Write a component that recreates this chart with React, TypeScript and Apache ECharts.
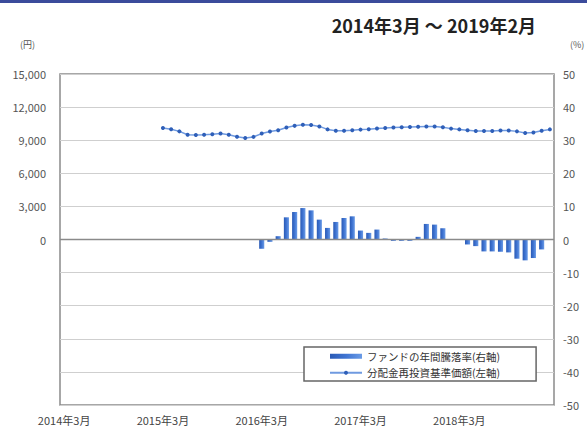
import React, { useEffect, useRef } from "react";
import * as echarts from "echarts";

const FONT = "'Noto Sans CJK JP', 'Noto Sans', sans-serif";

// 60 months: 2014年3月 ... 2019年2月
const months: string[] = [];
for (let k = 0; k < 60; k++) {
  const y = 2014 + Math.floor((2 + k) / 12);
  const m = ((2 + k) % 12) + 1;
  months.push(`${y}年${m}月`);
}

// 分配金再投資基準価額 (円), from 2015年3月 (index 12) to 2019年2月
const navValues: (number | null)[] = [
  null, null, null, null, null, null, null, null, null, null, null, null,
  10100, 10000, 9800, 9500, 9480, 9490, 9530, 9600, 9500, 9320, 9200, 9300,
  9600, 9780, 9900, 10150, 10300, 10400, 10380, 10250, 9980, 9850, 9850, 9900,
  9960, 10000, 10060, 10100, 10150, 10180, 10200, 10220, 10240, 10250, 10180, 10050,
  9980, 9900, 9840, 9830, 9840, 9880, 9880, 9800, 9650, 9700, 9850, 9980,
];

// ファンドの年間騰落率 (%), from 2016年3月 (index 24)
const returnValues: (number | null)[] = [
  null, null, null, null, null, null, null, null, null, null, null, null,
  null, null, null, null, null, null, null, null, null, null, null, null,
  -2.8, -0.7, 1.0, 6.7, 8.3, 9.5, 8.8, 6.0, 3.5, 5.3, 6.5, 7.0,
  2.7, 2.0, 3.0, 0.3, -0.4, -0.4, -0.4, 0.8, 4.7, 4.5, 3.4, 0.1,
  0.1, -1.5, -2.0, -3.6, -3.6, -3.7, -3.9, -5.8, -6.3, -5.6, -3.0, null,
];

const leftTicks = { min: -15000, max: 15000, interval: 3000 };
const rightTicks = { min: -50, max: 50, interval: 10 };

const titleText = "2014年3月 ～ 2019年2月";
const barName = "ファンドの年間騰落率(右軸)";
const lineName = "分配金再投資基準価額(左軸)";

export default function App() {
  const ref = useRef<HTMLDivElement>(null);
  useEffect(() => {
    if (!ref.current) return;
    const chart = echarts.init(ref.current, undefined, { renderer: "svg" });
    chart.setOption({
      animation: false,
      backgroundColor: "#ffffff",
      textStyle: { fontFamily: FONT },
      title: {
        text: titleText,
        right: 46,
        top: 11,
        textStyle: { fontFamily: FONT, fontSize: 18, fontWeight: "bold", color: "#222" },
      },
      graphic: [
        { type: "rect", shape: { x: 0, y: 0, width: 587, height: 3 }, style: { fill: "#3b4b9b" } },
        { type: "text", left: 20, top: 40, style: { text: "(円)", fontSize: 9, fontFamily: FONT, fill: "#555" } },
        { type: "text", left: 570, top: 40, style: { text: "(%)", fontSize: 9, fontFamily: FONT, fill: "#555" } },
      ],
      legend: {
        orient: "vertical",
        left: 304,
        top: 347,
        padding: [4, 36, 3, 25],
        itemGap: 6,
        itemWidth: 32,
        itemHeight: 5,
        borderColor: "#666",
        borderWidth: 1.5,
        backgroundColor: "#fff",
        textStyle: { fontFamily: FONT, fontSize: 10.5, color: "#333" },
        data: [
          { name: barName, icon: "rect" },
          { name: lineName },
        ],
      },
      grid: {
        left: 60,
        right: 33,
        top: 74,
        bottom: 23,
        show: true,
        borderColor: "#8a8a8a",
        borderWidth: 1.5,
        containLabel: false,
      },
      xAxis: {
        type: "category",
        data: months,
        boundaryGap: true,
        axisLine: { show: false },
        axisTick: { show: false },
        axisLabel: {
          interval: 11,
          fontSize: 11,
          color: "#444",
          fontFamily: FONT,
          margin: 9,
        },
        splitLine: { show: false },
      },
      yAxis: [
        {
          type: "value",
          position: "left",
          ...leftTicks,
          axisLine: { show: false },
          axisTick: { show: false },
          splitLine: { show: false },
          axisLabel: {
            fontSize: 11,
            color: "#555",
            fontFamily: FONT,
            margin: 14,
            formatter: (v: number) => (v < 0 ? "" : v.toLocaleString("en-US")),
          },
        },
        {
          type: "value",
          position: "right",
          ...rightTicks,
          axisLine: { show: false },
          axisTick: { show: false },
          splitLine: { show: true, lineStyle: { color: "#cfcfcf", width: 1 } },
          axisLabel: {
            fontSize: 11,
            color: "#555",
            fontFamily: FONT,
            margin: 9,
          },
        },
      ],
      series: [
        {
          name: barName,
          type: "bar",
          yAxisIndex: 1,
          data: returnValues,
          barCategoryGap: "38%",
          itemStyle: {
            color: new echarts.graphic.LinearGradient(0, 0, 1, 0, [
              { offset: 0, color: "#2a5ab5" },
              { offset: 0.5, color: "#3f74d2" },
              { offset: 1, color: "#6a9be6" },
            ]),
          },
          markLine: {
            silent: true,
            symbol: "none",
            label: { show: false },
            lineStyle: { color: "#8a8a8a", width: 1.3, type: "solid" },
            data: [{ yAxis: 0 }],
          },
        },
        {
          name: lineName,
          type: "line",
          yAxisIndex: 0,
          data: navValues,
          symbol: "circle",
          symbolSize: 4,
          showSymbol: true,
          lineStyle: { color: "#6f9ae0", width: 1.5 },
          itemStyle: { color: "#2f5fb8" },
        },
      ],
    });
    return () => chart.dispose();
  }, []);
  return (
    <div
      ref={ref}
      style={{ position: "absolute", left: 0, top: 0, width: 587, height: 428 }}
    />
  );
}
